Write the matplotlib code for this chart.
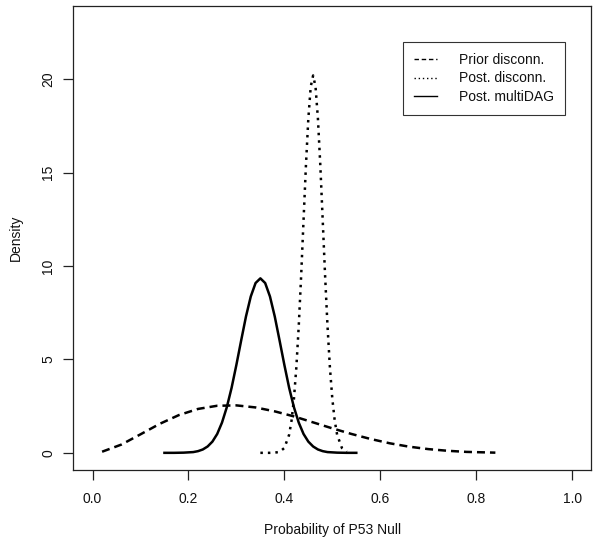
import matplotlib as mp
mp.use('Agg')
import matplotlib.pyplot as plt

plt.rcParams['font.family'] = ['Liberation Sans', 'DejaVu Sans']

# Prior disconn. (dashed)
prior_x = [0.02, 0.06, 0.10, 0.14, 0.18, 0.22, 0.26, 0.30, 0.34, 0.38, 0.42,
           0.46, 0.50, 0.54, 0.58, 0.62, 0.66, 0.70, 0.74, 0.78, 0.84]
prior_y = [0.06, 0.44, 0.99, 1.55, 2.02, 2.35, 2.52, 2.54, 2.43, 2.22, 1.95,
           1.63, 1.31, 1.01, 0.74, 0.51, 0.33, 0.20, 0.11, 0.05, 0.01]

# Post. disconn. (dotted)
post_x = [0.35, 0.36, 0.37, 0.38, 0.39, 0.40, 0.41, 0.415, 0.42, 0.425, 0.43,
          0.435, 0.44, 0.445, 0.45, 0.455, 0.46, 0.465, 0.47, 0.475, 0.48,
          0.485, 0.49, 0.495, 0.50, 0.505, 0.51, 0.52, 0.53]
post_y = [0.0, 0.0, 0.0, 0.01, 0.05, 0.26, 0.97, 1.73, 2.90, 4.57, 6.78,
          9.46, 12.44, 15.38, 17.89, 19.60, 20.2, 19.60, 17.89, 15.38, 12.44,
          9.46, 6.78, 4.57, 2.90, 1.73, 0.97, 0.26, 0.05]

# Post. multiDAG (solid)
mdag_x = [0.15, 0.17, 0.19, 0.21, 0.22, 0.23, 0.24, 0.25, 0.26, 0.27, 0.28,
          0.29, 0.30, 0.31, 0.32, 0.33, 0.34, 0.35, 0.36, 0.37, 0.38, 0.39,
          0.40, 0.41, 0.42, 0.43, 0.44, 0.45, 0.46, 0.47, 0.48, 0.49, 0.51,
          0.53, 0.55]
mdag_y = [0.0, 0.0, 0.01, 0.04, 0.09, 0.18, 0.34, 0.60, 1.01, 1.62, 2.44,
          3.48, 4.71, 6.02, 7.30, 8.37, 9.09, 9.34, 9.09, 8.37, 7.30, 6.02,
          4.71, 3.48, 2.44, 1.62, 1.01, 0.60, 0.34, 0.18, 0.09, 0.04, 0.01,
          0.0, 0.0]

labels = ['Prior disconn.', 'Post. disconn.', 'Post. multiDAG']
xticks = [0.0, 0.2, 0.4, 0.6, 0.8, 1.0]
yticks = [0, 5, 10, 15, 20]

fs = 10

fig = plt.figure(figsize=(6.0, 5.43), dpi=100)
ax = fig.add_axes([0.1222, 0.1344, 0.8633, 0.8546])

ax.plot(prior_x, prior_y, color='black', lw=1.8, linestyle=(0, (3.2, 2.0)),
        label=labels[0])
ax.plot(post_x, post_y, color='black', lw=1.8, linestyle=(0, (1, 2)),
        label=labels[1])
ax.plot(mdag_x, mdag_y, color='black', lw=1.8, label=labels[2])

ax.set_xlim(-0.04, 1.04)
ax.set_ylim(-0.92, 23.92)
ax.set_xticks(xticks)
ax.set_xticklabels(['%.1f' % t for t in xticks])
ax.set_yticks(yticks)
ax.set_yticklabels([str(t) for t in yticks], rotation=90, va='center')
ax.tick_params(axis='both', direction='out', length=7, width=0.9,
               labelsize=fs, color='#222222', labelcolor='#111111')
ax.tick_params(axis='x', pad=9)
ax.tick_params(axis='y', pad=6)
for s in ax.spines.values():
    s.set_linewidth(0.9)
    s.set_color('#222222')

ax.set_xlabel('Probability of P53 Null', fontsize=fs, labelpad=12,
              color='#111111')
ax.set_ylabel('Density', fontsize=fs, labelpad=13, color='#111111')

leg = ax.legend(loc='upper left', bbox_to_anchor=(0.636, 0.922),
                fontsize=fs, frameon=True, fancybox=False,
                edgecolor='black', handlelength=1.7, handletextpad=1.55,
                labelspacing=0.3, borderpad=0.8, borderaxespad=0)
leg.get_frame().set_linewidth(0.8)
for h in leg.get_lines():
    h.set_linewidth(1.0)
for t in leg.get_texts():
    t.set_color('#111111')

plt.savefig('out.png', dpi=100)
